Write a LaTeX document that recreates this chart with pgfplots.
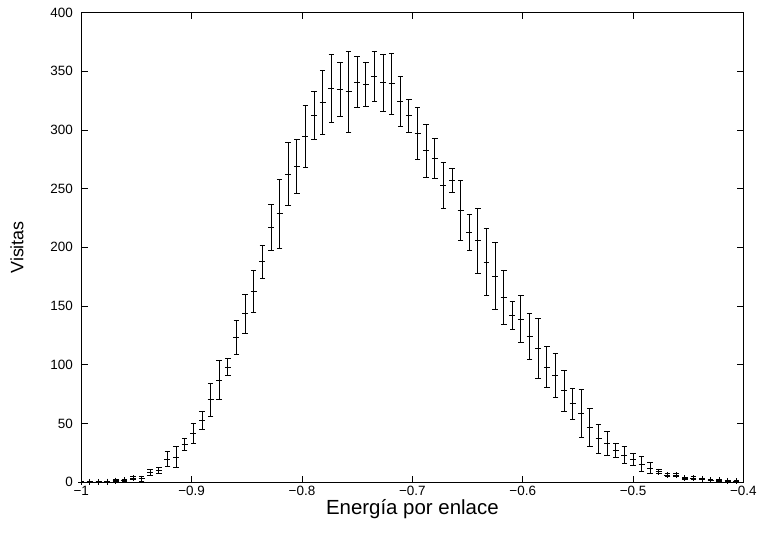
\documentclass[border=0pt]{standalone}
\usepackage{pgfplots}
\pgfplotsset{compat=1.18}
\usepackage{pgfplotstable}
\usepackage{fontspec}
\setmainfont{Liberation Sans}

% Histogram of visits per energy bin (bin width 1/128), with error bars
\pgfplotstableread{
x        y      e
-1.0000  0.2    0.2
-0.9922  0.3    0.2
-0.9844  0.3    0.2
-0.9766  0.6    0.3
-0.9688  1.4    0.6
-0.9609  1.5    0.6
-0.9531  3.4    1.3
-0.9453  3.2    2.1
-0.9375  8.5    2.8
-0.9297  9.9    2.5
-0.9219  19.8   6.2
-0.9141  21.2   8.9
-0.9063  32.2   5.0
-0.8984  41.6   8.4
-0.8906  52.3   7.7
-0.8828  70.2   14.0
-0.8750  86.8   16.7
-0.8672  98.1   7.5
-0.8594  123.6  14.4
-0.8516  143.3  17.0
-0.8438  162.5  17.8
-0.8359  187.7  13.9
-0.8281  217.1  19.6
-0.8203  228.7  29.4
-0.8125  262.3  26.9
-0.8047  269.1  22.8
-0.7969  294.6  26.6
-0.7891  312.4  20.2
-0.7813  323.2  27.1
-0.7734  335.3  29.3
-0.7656  334.4  22.9
-0.7578  332.5  34.7
-0.7500  340.7  21.6
-0.7422  338.8  19.0
-0.7344  345.6  21.2
-0.7266  340.1  24.2
-0.7188  339.3  26.0
-0.7109  324.0  21.2
-0.7031  312.1  14.2
-0.6953  296.9  21.8
-0.6875  282.2  22.6
-0.6797  275.7  17.2
-0.6719  252.9  19.8
-0.6641  256.7  10.2
-0.6563  231.3  25.6
-0.6484  212.6  15.6
-0.6406  205.5  27.3
-0.6328  187.4  28.3
-0.6250  175.3  28.5
-0.6172  157.5  22.9
-0.6094  142.2  11.8
-0.6016  138.8  19.9
-0.5938  124.1  19.7
-0.5859  114.2  25.6
-0.5781  97.8   17.4
-0.5703  91.0   18.5
-0.5625  78.0   17.4
-0.5547  66.8   13.3
-0.5469  58.8   20.4
-0.5391  46.6   16.3
-0.5313  37.1   12.2
-0.5234  33.3   10.3
-0.5156  27.4   6.0
-0.5078  23.2   7.5
-0.5000  19.2   5.0
-0.4922  15.5   6.2
-0.4844  11.9   4.6
-0.4766  9.1    1.6
-0.4688  6.2    1.5
-0.4609  6.2    1.2
-0.4531  3.4    1.0
-0.4453  3.4    1.2
-0.4375  2.8    0.8
-0.4297  1.7    0.5
-0.4219  1.5    0.5
-0.4141  1.2    0.4
-0.4063  1.0    0.4
}\visitas

\begin{document}
\begin{tikzpicture}
\begin{axis}[
  scale only axis,
  width=664.5pt, height=471.5pt,
  xmin=-1, xmax=-0.4,
  ymin=0, ymax=400,
  xtick={-1,-0.9,-0.8,-0.7,-0.6,-0.5,-0.4},
  xticklabels={−1,−0.9,−0.8,−0.7,−0.6,−0.5,−0.4},
  ytick={0,50,100,150,200,250,300,350,400},
  tick align=inside,
  major tick length=6.5pt,
  tick style={black, line width=0.8pt},
  axis line style={line width=0.9pt},
  /pgf/number format/assume math mode=true,
  tick label style={font=\fontsize{13.5}{15}\selectfont},
  xticklabel style={yshift=0pt},
  yticklabel style={xshift=-5pt},
  xlabel={Energía por enlace},
  ylabel={Visitas},
  xlabel style={font=\fontsize{20.5}{23}\selectfont,
    at={(axis description cs:0.5,-0.058)}, anchor=center},
  ylabel style={font=\fontsize{18}{20}\selectfont,
    at={(axis description cs:-0.0972,0.5)}, anchor=center},
]
\addplot[
  black, only marks, line width=0.9pt,
  mark=+, mark size=3pt,
  error bars/.cd,
    y dir=both, y explicit,
    error bar style={line width=0.9pt},
    error mark options={rotate=90, mark size=2.8pt, line width=0.9pt},
] table[x=x, y=y, y error=e] {\visitas};
\end{axis}
\path ([xshift=-81.6pt,yshift=-51pt]current axis.south west)
  rectangle ([xshift=14pt,yshift=12.5pt]current axis.north east);
\end{tikzpicture}
\end{document}
